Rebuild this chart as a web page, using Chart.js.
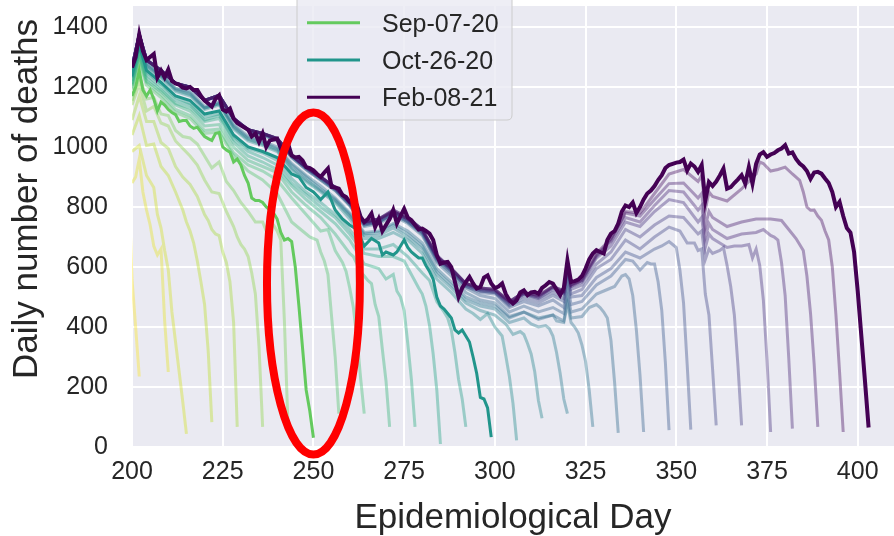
<!DOCTYPE html>
<html><head><meta charset="utf-8">
<script src="https://cdn.jsdelivr.net/npm/chart.js@4.4.1/dist/chart.umd.min.js"></script>
<style>html,body{margin:0;padding:0;background:#fff;}#wrap{width:894px;height:536px;}</style>
</head><body><div id="wrap"><canvas id="c" width="894" height="536"></canvas></div>
<script>
// ---------- DATA ----------
const vintageLabels = ['Jul-20-20','Jul-27-20','Aug-03-20','Aug-10-20','Aug-17-20','Aug-24-20','Aug-31-20','Sep-07-20','Sep-14-20','Sep-21-20','Sep-28-20','Oct-05-20','Oct-12-20','Oct-19-20','Oct-26-20','Nov-02-20','Nov-09-20','Nov-16-20','Nov-23-20','Nov-30-20','Dec-07-20','Dec-14-20','Dec-21-20','Dec-28-20','Jan-04-21','Jan-11-21','Jan-18-21','Jan-25-21','Feb-01-21','Feb-08-21'];
const legendLabels = ['Sep-07-20','Oct-26-20','Feb-08-21'];
const xTickValues = [200,225,250,275,300,325,350,375,400];
const yTickValues = [0,200,400,600,800,1000,1200,1400];
const xTitle = 'Epidemiological Day';
const yTitle = 'Daily number of deaths';

// each vintage: [epidemiological day, daily deaths]
const v00 = [[199,900],[200,560],[201,400],[202,235]];
const v01 = [[200,880],[201,900],[202,960],[203,850],[204,790],[205,740],[206,670],[207,640],[208,660],[209,420],[210,250]];
const v02 = [[200,985],[202,1005],[204,905],[206,865],[207,775],[208,730],[209,655],[210,590],[211,450],[212,350],[213,250],[214,150],[215,44]];
const v03 = [[200,1040],[202,1105],[204,1005],[206,1010],[208,935],[210,905],[212,850],[213,820],[214,790],[215,750],[216,720],[217,680],[218,620],[219,550],[220,475],[221,320],[222,83]];
const v04 = [[200,1090],[202,1170],[204,1085],[206,1085],[208,1015],[210,995],[212,935],[214,900],[216,875],[218,835],[220,775],[221,755],[222,725],[223,710],[224,705],[225,650],[226,615],[227,550],[228,415],[229,67]];
const v05 = [[200,1140],[202,1210],[204,1120],[206,1135],[208,1080],[210,1070],[212,1020],[214,995],[216,970],[218,940],[220,890],[222,850],[224,845],[226,785],[228,735],[229,700],[230,675],[231,660],[232,635],[233,580],[234,510],[235,335],[236,67]];
const v06 = [[200,1155],[202,1240],[204,1160],[206,1165],[208,1110],[210,1105],[212,1055],[214,1035],[216,1030],[218,1010],[220,970],[222,930],[224,950],[226,885],[228,855],[230,815],[232,785],[234,750],[236,750],[237,720],[238,745],[239,740],[240,720],[241,690],[242,420],[243,67]];
const v07 = [[200,1170],[201,1200],[202,1255],[203,1190],[204,1170],[205,1190],[206,1160],[207,1120],[208,1150],[209,1140],[210,1125],[211,1115],[212,1108],[213,1085],[214,1088],[215,1088],[216,1070],[217,1062],[218,1066],[219,1050],[220,1035],[221,1028],[222,1022],[223,1045],[224,1048],[225,1000],[226,990],[227,983],[228,950],[229,960],[230,940],[231,905],[232,880],[233,830],[234,822],[235,822],[236,815],[237,800],[238,790],[239,780],[240,760],[241,715],[242,690],[243,695],[244,685],[245,600],[246,470],[247,330],[248,190],[249,120],[250,31]];
const v08 = [[200,1190],[202,1285],[204,1205],[208,1165],[212,1115],[216,1095],[220,1045],[224,1050],[228,970],[232,920],[236,890],[240,845],[244,750],[247,720],[249,700],[251,690],[252,650],[253,620],[254,575],[255,435],[256,300],[257,111]];
const v09 = [[200,1195],[202,1295],[204,1215],[208,1175],[212,1125],[216,1105],[220,1055],[224,1060],[228,980],[232,940],[236,920],[240,890],[244,830],[248,775],[252,720],[254,725],[256,655],[258,615],[259,585],[260,530],[261,465],[262,365],[263,230],[264,111]];
const v10 = [[200,1205],[202,1305],[204,1220],[208,1185],[212,1140],[216,1120],[220,1070],[224,1075],[228,1000],[232,955],[236,935],[240,915],[244,850],[248,805],[252,765],[256,710],[260,645],[261,635],[263,585],[265,555],[266,545],[267,475],[268,435],[269,325],[270,220],[271,67]];
const v11 = [[200,1210],[202,1315],[204,1230],[208,1190],[212,1145],[216,1130],[220,1085],[224,1095],[228,1015],[232,970],[236,950],[240,925],[244,870],[248,825],[252,785],[256,745],[260,690],[264,610],[268,595],[270,560],[272,575],[273,520],[274,500],[275,455],[276,345],[277,225],[278,67]];
const v12 = [[200,1220],[202,1325],[204,1240],[208,1200],[212,1155],[216,1140],[220,1090],[224,1105],[228,1025],[232,985],[236,965],[240,940],[244,880],[248,840],[252,800],[256,765],[260,710],[264,645],[268,635],[272,635],[275,620],[277,575],[279,530],[280,510],[281,470],[282,405],[283,310],[284,190],[285,10]];
const v13 = [[200,1230],[202,1335],[204,1250],[208,1210],[212,1165],[216,1145],[220,1100],[224,1110],[228,1035],[232,995],[236,980],[240,955],[244,895],[248,850],[252,815],[256,775],[260,725],[264,660],[268,660],[272,675],[276,635],[280,580],[282,555],[284,485],[286,450],[287,430],[288,390],[289,315],[290,225],[291,160],[292,67]];
const v14 = [[200,1235],[202,1340],[204,1255],[208,1215],[212,1170],[216,1155],[220,1110],[224,1120],[228,1040],[232,1000],[236,985],[240,965],[244,910],[246,900],[248,865],[250,850],[252,825],[254,850],[256,790],[258,760],[260,740],[262,725],[264,670],[266,695],[268,680],[269,640],[270,650],[271,645],[272,640],[273,650],[274,670],[275,690],[276,665],[277,650],[278,640],[279,630],[280,630],[281,605],[282,585],[283,560],[284,500],[285,470],[286,460],[287,445],[288,430],[289,390],[290,380],[291,390],[292,370],[293,350],[294,300],[295,245],[296,165],[297,160],[298,130],[299,33]];
const v15 = [[200,1245],[202,1350],[204,1265],[208,1230],[212,1185],[216,1170],[220,1125],[224,1140],[228,1060],[232,1020],[236,1005],[240,985],[244,925],[248,885],[252,850],[256,815],[260,760],[264,695],[268,695],[272,715],[276,690],[280,645],[284,560],[288,515],[292,460],[294,445],[296,425],[298,445],[300,400],[301,385],[302,370],[303,305],[304,235],[305,145],[306,22]];
const v16 = [[200,1250],[202,1355],[204,1270],[208,1235],[212,1190],[216,1175],[220,1130],[224,1145],[228,1065],[232,1025],[236,1010],[240,990],[244,930],[248,890],[252,855],[256,820],[260,770],[264,705],[268,705],[272,730],[276,700],[280,660],[284,575],[288,530],[292,480],[296,455],[300,440],[303,410],[305,375],[307,385],[308,375],[309,345],[310,310],[311,250],[312,155],[313,96]];
const v17 = [[200,1250],[202,1360],[204,1275],[208,1240],[212,1195],[216,1180],[220,1130],[224,1145],[228,1070],[232,1030],[236,1015],[240,995],[244,940],[248,900],[252,860],[256,825],[260,775],[264,710],[268,715],[272,740],[276,710],[280,670],[284,585],[288,540],[292,490],[296,470],[300,460],[304,415],[308,430],[310,410],[312,400],[314,405],[315,395],[316,370],[317,315],[318,245],[319,160],[320,111]];
const v18 = [[200,1255],[202,1365],[204,1280],[208,1240],[212,1195],[216,1185],[220,1135],[224,1150],[228,1075],[232,1035],[236,1020],[240,1000],[244,945],[248,905],[252,870],[256,830],[260,780],[264,715],[268,720],[272,745],[276,720],[280,680],[284,595],[288,550],[292,500],[296,480],[300,470],[304,430],[308,450],[312,430],[316,440],[317,420],[319,415],[320,475],[321,415],[322,400],[323,380],[324,340],[325,285],[326,190],[327,67]];
const v19 = [[200,1265],[202,1375],[204,1290],[208,1255],[212,1212],[216,1200],[220,1155],[224,1170],[228,1090],[232,1055],[236,1040],[240,1020],[244,965],[248,925],[252,890],[256,855],[260,805],[264,735],[268,745],[272,770],[276,745],[280,705],[284,615],[288,570],[292,515],[296,490],[300,480],[304,435],[308,450],[312,425],[316,440],[319,420],[320,490],[321,430],[324,435],[326,465],[328,475],[329,465],[330,450],[331,430],[332,355],[333,215],[334,47]];
const v20 = [[200,1265],[202,1375],[204,1290],[208,1255],[212,1212],[216,1200],[220,1155],[224,1170],[228,1095],[232,1055],[236,1040],[240,1025],[244,965],[248,925],[252,890],[256,855],[260,805],[264,740],[268,750],[272,775],[276,750],[280,710],[284,620],[288,580],[292,530],[296,505],[300,495],[304,450],[308,470],[312,450],[316,465],[319,445],[320,515],[321,450],[324,460],[328,510],[331,525],[333,535],[335,570],[336,575],[337,560],[338,505],[339,390],[340,240],[341,50]];
const v21 = [[200,1265],[202,1375],[204,1290],[208,1255],[212,1212],[216,1200],[220,1155],[224,1172],[228,1095],[232,1055],[236,1045],[240,1025],[244,970],[248,930],[252,895],[256,860],[260,810],[264,740],[268,750],[272,780],[276,750],[280,715],[284,625],[288,585],[292,535],[296,515],[300,510],[304,465],[308,485],[312,470],[316,490],[319,465],[320,545],[321,475],[324,485],[328,540],[332,570],[336,625],[338,620],[340,590],[342,615],[343,610],[344,610],[345,550],[346,455],[347,280],[348,56]];
const v22 = [[200,1265],[202,1375],[204,1290],[208,1255],[212,1212],[216,1200],[220,1155],[224,1172],[228,1095],[232,1058],[236,1045],[240,1025],[244,970],[248,930],[252,895],[256,860],[260,810],[264,745],[268,750],[272,780],[276,755],[280,715],[284,630],[288,585],[292,535],[296,520],[300,515],[304,470],[308,495],[312,480],[316,505],[319,485],[320,565],[321,500],[324,505],[328,565],[332,595],[336,650],[340,630],[344,660],[346,670],[348,685],[349,675],[350,665],[351,590],[352,480],[353,275],[354,58]];
const v23 = [[200,1265],[202,1375],[204,1290],[208,1255],[212,1212],[216,1200],[220,1155],[224,1172],[228,1095],[232,1058],[236,1045],[240,1028],[244,972],[248,930],[252,900],[256,860],[260,815],[264,745],[268,755],[272,785],[276,755],[280,720],[284,630],[288,590],[292,540],[296,520],[300,515],[304,475],[308,505],[312,490],[316,515],[319,495],[320,580],[321,510],[324,525],[328,595],[332,625],[336,690],[340,660],[344,700],[348,733],[351,720],[353,680],[355,680],[356,655],[357,660],[358,510],[359,440],[360,260],[361,72]];
const v24 = [[200,1265],[202,1375],[204,1290],[208,1255],[212,1212],[216,1200],[220,1155],[224,1172],[228,1095],[232,1058],[236,1045],[240,1028],[244,972],[248,933],[252,900],[256,865],[260,815],[264,745],[268,755],[272,785],[276,760],[280,720],[284,635],[288,590],[292,540],[296,525],[300,520],[304,480],[308,510],[312,495],[316,525],[319,510],[320,595],[321,525],[324,540],[328,610],[332,650],[336,725],[340,700],[344,740],[348,770],[352,765],[356,710],[357,720],[358,625],[359,660],[360,645],[362,655],[363,665],[364,605],[365,535],[366,440],[367,270],[368,72]];
const v25 = [[200,1265],[202,1375],[204,1290],[208,1255],[212,1212],[216,1200],[220,1155],[224,1172],[228,1095],[232,1058],[236,1045],[240,1028],[244,972],[248,933],[252,900],[256,865],[260,815],[264,750],[268,760],[272,785],[276,760],[280,725],[284,635],[288,595],[292,545],[296,525],[300,520],[304,480],[308,510],[312,500],[316,530],[319,515],[320,605],[321,535],[324,550],[328,630],[332,670],[336,750],[340,735],[344,785],[348,825],[352,815],[356,750],[357,765],[358,665],[359,710],[360,695],[364,665],[366,670],[368,670],[370,675],[371,630],[372,660],[373,605],[374,490],[375,290],[376,50]];
const v26 = [[200,1265],[202,1375],[204,1290],[208,1255],[212,1212],[216,1200],[220,1155],[224,1172],[228,1095],[232,1058],[236,1045],[240,1028],[244,972],[248,933],[252,900],[256,865],[260,817],[264,750],[268,760],[272,790],[276,765],[280,725],[284,635],[288,595],[292,545],[296,530],[300,525],[304,485],[308,515],[312,500],[316,535],[319,515],[320,605],[321,535],[324,555],[328,635],[332,685],[336,765],[340,750],[344,805],[348,855],[352,850],[356,790],[357,805],[358,700],[359,745],[360,725],[364,695],[368,710],[372,715],[374,725],[376,705],[377,700],[378,690],[379,615],[380,505],[381,295],[382,61]];
const v27 = [[200,1265],[202,1375],[204,1290],[208,1255],[212,1212],[216,1200],[220,1155],[224,1172],[228,1095],[232,1058],[236,1045],[240,1028],[244,972],[248,933],[252,900],[256,865],[260,817],[264,750],[268,760],[272,790],[276,765],[280,725],[284,640],[288,595],[292,545],[296,530],[300,525],[304,485],[308,515],[312,505],[316,535],[319,520],[320,610],[321,540],[324,555],[328,640],[332,690],[336,780],[340,770],[344,825],[348,878],[352,880],[356,830],[357,845],[358,735],[359,785],[360,765],[364,735],[368,750],[372,760],[376,760],[379,755],[381,725],[383,695],[384,675],[385,655],[386,570],[387,445],[388,275],[389,67]];
const v28 = [[200,1265],[202,1375],[204,1290],[208,1255],[212,1212],[216,1200],[220,1155],[224,1172],[228,1095],[232,1058],[236,1045],[240,1028],[244,972],[248,933],[252,900],[256,865],[260,815],[264,750],[268,760],[272,785],[276,760],[280,725],[284,635],[288,595],[292,545],[296,530],[300,525],[304,485],[308,515],[312,505],[316,535],[319,520],[320,610],[321,540],[324,560],[328,645],[332,695],[336,785],[340,780],[344,845],[348,910],[352,925],[356,885],[357,905],[358,790],[359,850],[360,835],[364,820],[368,860],[372,910],[373,950],[374,945],[376,920],[378,925],[380,933],[382,910],[384,889],[385,850],[386,800],[387,789],[388,790],[389,770],[390,756],[391,720],[392,690],[393,600],[394,440],[395,250],[396,50]];
// latest vintage (Feb-08-21), one value per day starting at day 200
const febStartDay = 200;
const febValues = [1265,1300,1375,1320,1290,1300,1310,1232,1255,1232,
1258,1220,1212,1208,1198,1195,1200,1190,1190,1170,
1155,1145,1135,1160,1172,1125,1118,1128,1095,1080,
1072,1065,1058,1035,1045,1017,1045,1000,1022,1025,
1028,995,1005,1011,972,965,967,955,933,930,
922,910,900,915,928,867,865,861,840,833,
817,812,806,767,750,760,778,733,760,720,
740,760,790,745,770,794,765,756,740,725,
728,720,711,690,640,611,615,617,600,550,
500,530,550,567,545,528,533,565,572,545,
530,535,545,510,490,478,489,515,522,506,
515,517,511,530,539,550,545,525,506,530,
622,550,553,558,570,595,625,645,656,650,
645,690,711,720,745,785,805,800,815,780,
800,825,845,855,870,890,906,930,940,944,
948,950,958,922,945,935,917,940,822,883,
870,885,905,928,861,866,880,892,906,878,
933,878,944,975,983,967,975,980,989,995,
1006,978,982,960,945,935,920,894,915,917,
911,895,880,850,800,817,770,730,715,650,
520,370,220,65];
const vintageSeries = [v00,v01,v02,v03,v04,v05,v06,v07,v08,v09,v10,v11,v12,v13,v14,v15,v16,v17,v18,v19,v20,v21,v22,v23,v24,v25,v26,v27,v28,
  febValues.map((v,i)=>[febStartDay+i,v])];

// ---------- STYLE ----------
const viridis = ['#440154','#482475','#414487','#355f8d','#2a788e','#21918c','#22a884','#44bf70','#7ad151','#bddf26','#fde725'];
function hexToRgb(h){return [parseInt(h.slice(1,3),16),parseInt(h.slice(3,5),16),parseInt(h.slice(5,7),16)];}
function viridisAt(t){
  const p=t*(viridis.length-1); const i=Math.min(Math.floor(p),viridis.length-2); const f=p-i;
  const a=hexToRgb(viridis[i]), b=hexToRgb(viridis[i+1]);
  return a.map((c,j)=>Math.round(c+(b[j]-c)*f));
}
const N = vintageSeries.length;
const FONT = "'Liberation Sans', Arial, sans-serif";
const TEXT = '#262626';
function noAutoPad(s){ s.paddingTop=0; s.paddingBottom=0; s.paddingLeft=0; s.paddingRight=0; }

const datasets = vintageSeries.map((pts,k)=>{
  const rgb = viridisAt(1 - k/(N-1));
  const label = vintageLabels[k];
  const hi = legendLabels.includes(label);
  return {
    label,
    data: pts.map(([x,y])=>({x,y})),
    borderColor: hi ? `rgb(${rgb.join(',')})` : `rgba(${rgb.join(',')},0.4)`,
    borderWidth: hi ? (k===N-1 ? 4 : 3) : 3,
    pointRadius: 0,
    tension: 0,
    fill: false,
    clip: 0,
    order: hi ? (k===N-1 ? 0 : (label==='Oct-26-20' ? 1 : 2)) : 100 - k
  };
});

const decor = {
  id:'decor',
  beforeDraw(chart){
    const {ctx, chartArea:a} = chart;
    ctx.save();
    ctx.fillStyle='#ffffff'; ctx.fillRect(0,0,chart.width,chart.height);
    ctx.fillStyle='#eaeaf2'; ctx.fillRect(a.left,a.top,a.right-a.left,a.bottom-a.top);
    ctx.restore();
  },
  afterDatasetsDraw(chart){
    const {ctx, scales:{x,y}} = chart;
    ctx.save();
    // legend box
    const bx=297, by=-6, bw=215, bh=126, r=5;
    ctx.beginPath();
    ctx.moveTo(bx+r,by); ctx.lineTo(bx+bw-r,by); ctx.quadraticCurveTo(bx+bw,by,bx+bw,by+r);
    ctx.lineTo(bx+bw,by+bh-r); ctx.quadraticCurveTo(bx+bw,by+bh,bx+bw-r,by+bh);
    ctx.lineTo(bx+r,by+bh); ctx.quadraticCurveTo(bx,by+bh,bx,by+bh-r);
    ctx.lineTo(bx,by+r); ctx.quadraticCurveTo(bx,by,bx+r,by); ctx.closePath();
    ctx.fillStyle='rgba(234,234,242,0.8)'; ctx.fill();
    ctx.strokeStyle='#cccccc'; ctx.lineWidth=1; ctx.stroke();
    ctx.font=`25px ${FONT}`; ctx.fillStyle=TEXT; ctx.textAlign='left'; ctx.textBaseline='alphabetic';
    legendLabels.forEach((lab,i)=>{
      const ds = chart.data.datasets.find(d=>d.label===lab);
      const ly = 22.7 + 37.3*i;
      ctx.beginPath(); ctx.moveTo(307,ly); ctx.lineTo(360,ly);
      ctx.strokeStyle=ds.borderColor; ctx.lineWidth=3; ctx.stroke();
      ctx.fillText(lab, 382, ly+9);
    });
    // red ellipse annotation (data coordinates)
    const cx=x.getPixelForValue(250), cy=y.getPixelForValue(545);
    const rx=x.getPixelForValue(262.8)-cx, ry=cy-y.getPixelForValue(1115);
    ctx.beginPath(); ctx.ellipse(cx,cy,rx,ry,0,0,Math.PI*2);
    ctx.strokeStyle='#ff0000'; ctx.lineWidth=8; ctx.stroke();
    ctx.restore();
  },
  afterDraw(chart){
    const {ctx, chartArea:a} = chart;
    ctx.save();
    ctx.fillStyle=TEXT; ctx.font=`35px ${FONT}`;
    ctx.textAlign='center'; ctx.textBaseline='alphabetic';
    ctx.fillText(xTitle,(a.left+a.right)/2,528);
    ctx.translate(37,199); ctx.rotate(-Math.PI/2);
    ctx.fillText(yTitle,0,0);
    ctx.restore();
  }
};

new Chart(document.getElementById('c'),{
  type:'line',
  data:{datasets},
  plugins:[decor],
  options:{
    responsive:false, animation:false, devicePixelRatio:1,
    layout:{autoPadding:false, padding:{top:6,right:0,bottom:0,left:0}},
    plugins:{legend:{display:false},tooltip:{enabled:false}},
    scales:{
      x:{type:'linear',min:200,max:410,
        afterBuildTicks:s=>{s.ticks=xTickValues.map(v=>({value:v}));},
        afterFit:s=>{s.height=89; noAutoPad(s);},
        grid:{color:'#ffffff',lineWidth:2,drawTicks:false},
        border:{display:false},
        ticks:{font:{family:FONT,size:25},color:TEXT,padding:10,maxRotation:0,autoSkip:false,callback:v=>String(v)}},
      y:{type:'linear',min:0,max:1470,
        afterBuildTicks:s=>{s.ticks=yTickValues.map(v=>({value:v}));},
        afterFit:s=>{s.width=132; noAutoPad(s);},
        grid:{color:'#ffffff',lineWidth:2,drawTicks:false},
        border:{display:false},
        ticks:{font:{family:FONT,size:25},color:TEXT,padding:24,callback:v=>String(v)}}
    }
  }
});
</script></body></html>
